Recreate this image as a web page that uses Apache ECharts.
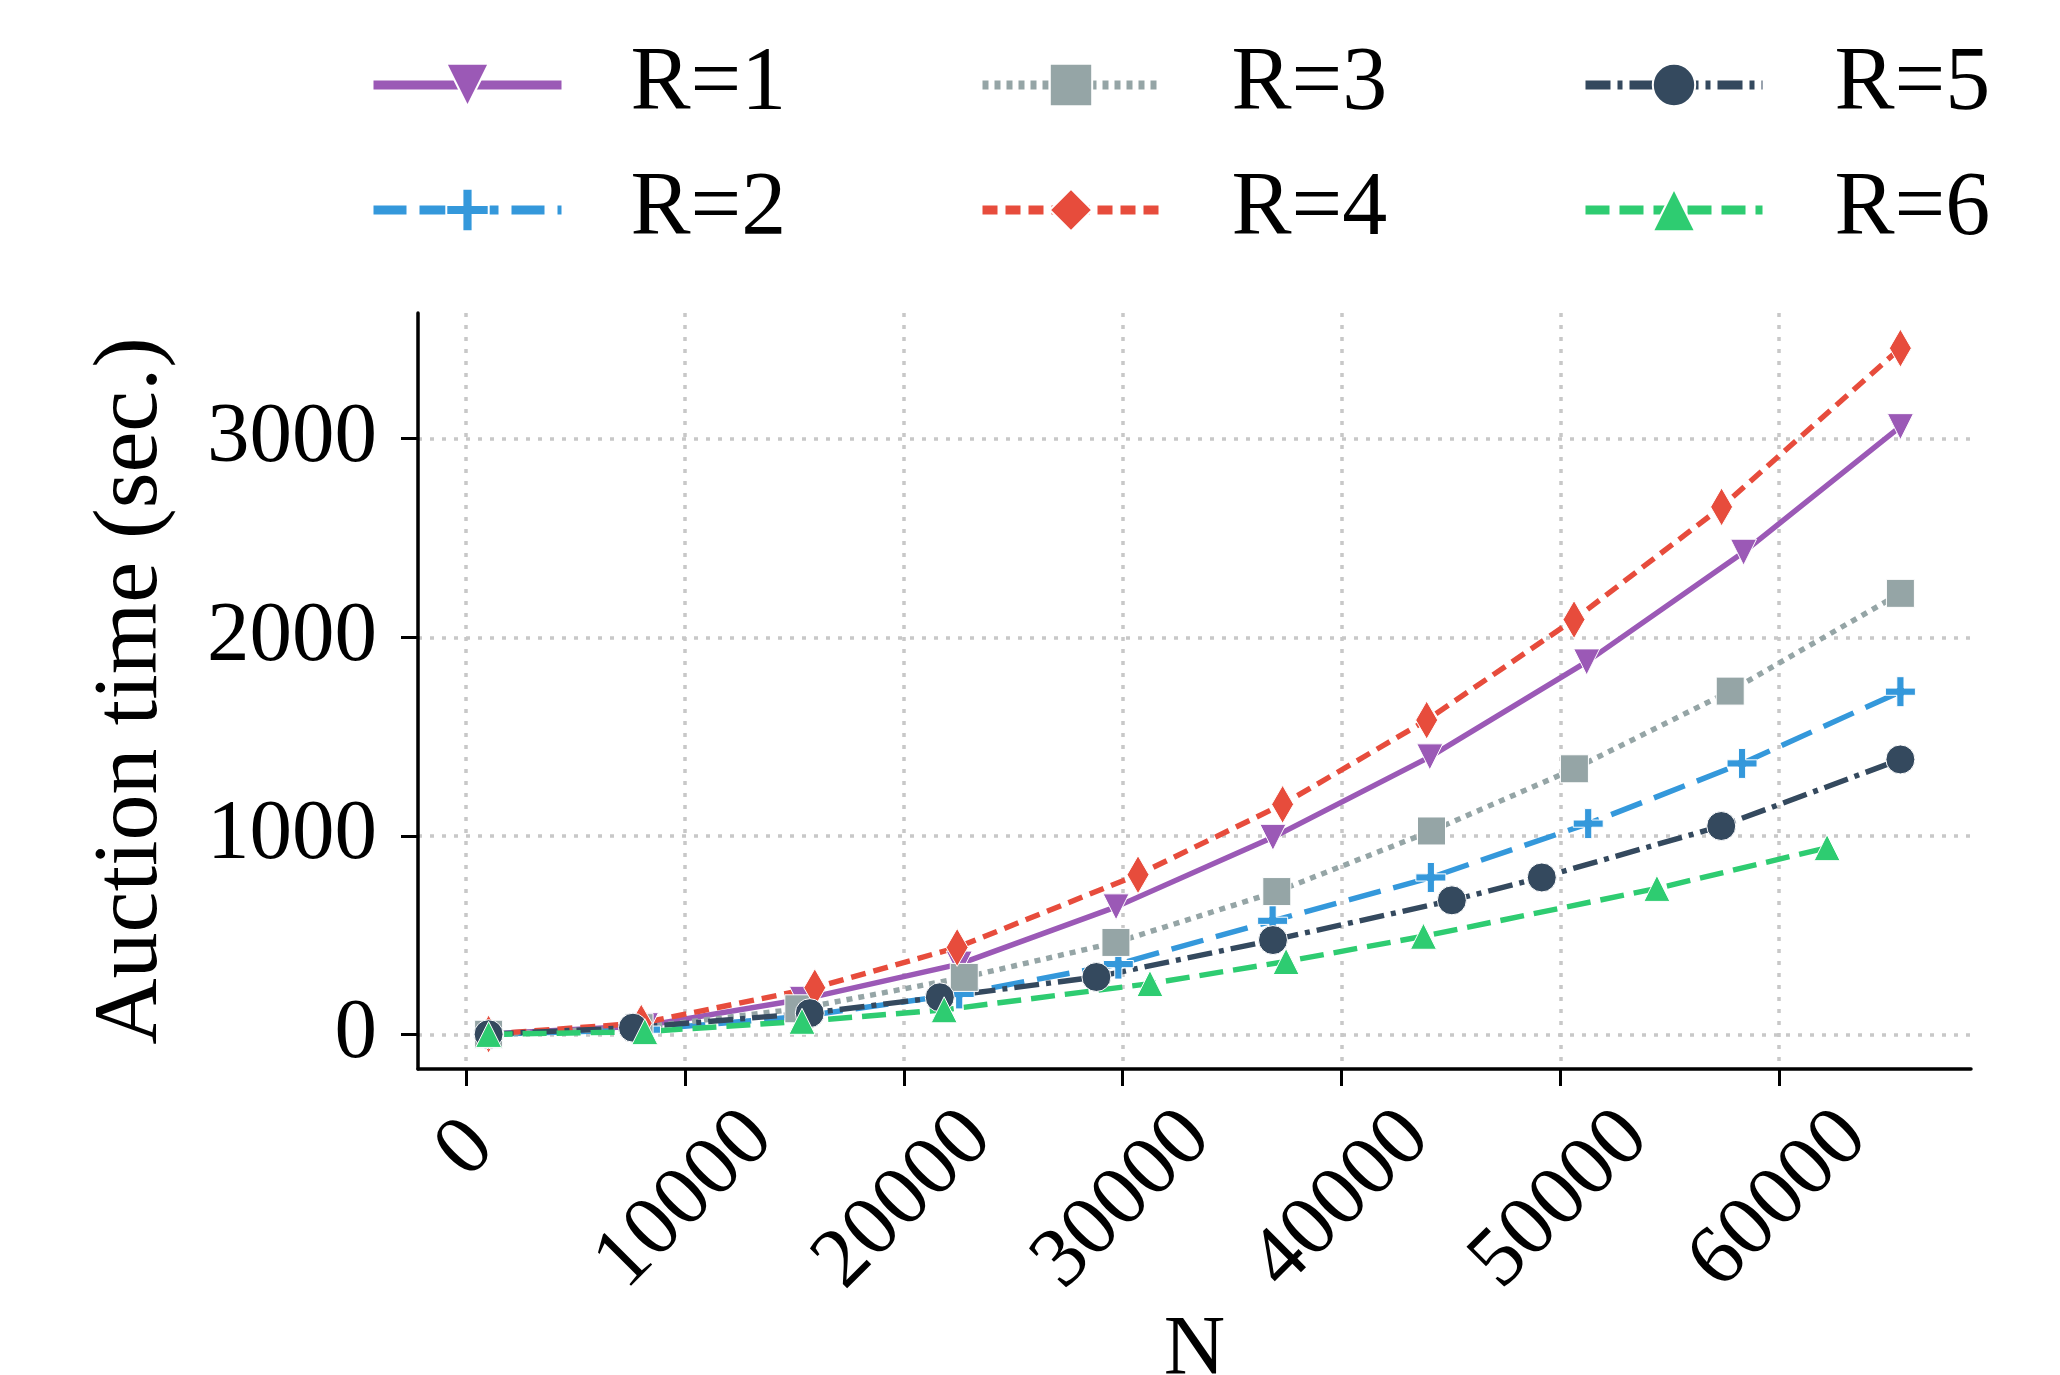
<!DOCTYPE html>
<html>
<head>
<meta charset="utf-8">
<title>Auction time</title>
<script src="https://cdn.jsdelivr.net/npm/echarts@6.0.0/dist/echarts.min.js"></script>
<style>
  html, body { margin: 0; padding: 0; background: #fff; }
  #chart { width: 2060px; height: 1375px; }
</style>
</head>
<body>
<div id="chart"></div>
<script>
// N values and auction times (sec.) per R
var nR1 = [1024, 8192, 15360, 22528, 29696, 36864, 44032, 51200, 58368, 65536];
var tR1 = [3, 45, 178, 355, 643, 993, 1398, 1876, 2428, 3060];
var nR2 = [1024, 8192, 15360, 22528, 29800, 36850, 44080, 51270, 58300, 65536];
var tR2 = [2, 25, 92, 205, 355, 573, 791, 1062, 1365, 1726];
var nR3 = [1024, 7900, 15200, 22760, 29690, 37040, 44110, 50640, 57760, 65536];
var tR3 = [2, 35, 130, 288, 464, 720, 1025, 1338, 1729, 2221];
var nR4 = [1024, 8000, 15930, 22435, 30700, 37306, 43890, 50623, 57366, 65536];
var tR4 = [3, 58, 236, 439, 805, 1159, 1583, 2089, 2656, 3455];
var nR5 = [1024, 7621, 15700, 21640, 28797, 36866, 45041, 49150, 57350, 65536];
var tR5 = [2, 35, 108, 188, 290, 476, 676, 791, 1050, 1385];
var nR6 = [1024, 8163, 15345, 21840, 31245, 37466, 43742, 54410, 62186];
var tR6 = [1, 15, 67, 125, 257, 368, 495, 736, 941];

var names = ['R=1', 'R=2', 'R=3', 'R=4', 'R=5', 'R=6'];
var xTicks = [0, 10000, 20000, 30000, 40000, 50000, 60000];
var yTicks = [0, 1000, 2000, 3000];

var serif = '"Liberation Serif", "DejaVu Serif", serif';
var plusPath = 'path://M3.8,0H6.2V3.8H10V6.2H6.2V10H3.8V6.2H0V3.8H3.8Z';
var thinDiamond = 'path://M11,0L22,19L11,38L0,19Z';

function pairs(ns, ts) {
  return ns.map(function (n, i) { return [n, ts[i]]; });
}

function makeSeries(name, ns, ts, color, dash, symbol, size, rotate) {
  return {
    name: name,
    type: 'line',
    data: pairs(ns, ts),
    symbol: symbol,
    symbolSize: size,
    symbolRotate: rotate || 0,
    symbolKeepAspect: true,
    showAllSymbol: true,
    lineStyle: { color: color, width: 5.4, type: dash },
    itemStyle: { color: color, borderColor: '#fff', borderWidth: 1 },
    emphasis: { disabled: true }
  };
}

var myChart = echarts.init(document.getElementById('chart'));

function legendCol(left, items, w, pad) {
  return {
    orient: 'vertical',
    left: left,
    top: 35,
    data: items,
    itemWidth: w,
    itemHeight: 53,
    itemGap: 35,
    selectedMode: false,
    lineStyle: { width: 9 },
    textStyle: {
      fontFamily: serif,
      fontSize: 90,
      lineHeight: 53,
      color: '#000',
      padding: [0, 0, 0, pad]
    }
  };
}

var option = {
  animation: false,
  backgroundColor: '#fff',
  legend: [
    legendCol(364, ['R=1', 'R=2'], 188, 64),
    legendCol(973, ['R=3', 'R=4'], 177, 67),
    legendCol(1576, ['R=5', 'R=6'], 177, 67)
  ],
  grid: {
    left: 418,
    right: 89,
    top: 313,
    bottom: 306,
    containLabel: false,
    outerBoundsMode: 'none'
  },
  xAxis: {
    type: 'value',
    min: -2202,
    max: 68762,
    name: 'N',
    nameLocation: 'middle',
    nameGap: 240,
    nameMoveOverlap: false,
    nameTextStyle: { fontFamily: serif, fontSize: 85, color: '#000' },
    axisLine: { show: true, onZero: false, lineStyle: { color: '#000', width: 3.5 } },
    axisTick: { show: true, customValues: xTicks, length: 17, lineStyle: { color: '#000', width: 3 } },
    axisLabel: {
      customValues: xTicks,
      rotate: 45,
      align: 'center',
      verticalAlign: 'middle',
      margin: 131,
      fontFamily: serif,
      fontSize: 85,
      color: '#000',
      formatter: function (v) { return v === 0 ? '{z|0}' : String(v); },
      rich: { z: { fontFamily: serif, fontSize: 85, color: '#000', padding: [0, 0, 72, 72] } }
    },
    splitLine: { show: true, lineStyle: { color: '#c8c8c8', width: 3.5, type: [4, 8] } }
  },
  yAxis: {
    type: 'value',
    min: -173,
    max: 3632,
    name: 'Auction time (sec.)',
    nameLocation: 'middle',
    nameGap: 240,
    nameMoveOverlap: false,
    nameTextStyle: { fontFamily: serif, fontSize: 92, color: '#000' },
    axisLine: { show: true, onZero: false, lineStyle: { color: '#000', width: 3.5 } },
    axisTick: { show: true, customValues: yTicks, length: 17, lineStyle: { color: '#000', width: 3 } },
    axisLabel: {
      customValues: yTicks,
      margin: 41,
      fontFamily: serif,
      fontSize: 85,
      color: '#000',
      formatter: function (v) { return String(v); }
    },
    splitLine: { show: true, lineStyle: { color: '#c8c8c8', width: 3.5, type: [4, 8] } }
  },
  series: [
    makeSeries(names[0], nR1, tR1, '#9b59b6', 'solid', 'triangle', 26, 180),
    makeSeries(names[1], nR2, tR2, '#3498db', [33, 13], plusPath, 30),
    makeSeries(names[2], nR3, tR3, '#95a5a6', [6, 6], 'rect', 28),
    makeSeries(names[3], nR4, tR4, '#e74c3c', [15, 8], thinDiamond, 38),
    makeSeries(names[4], nR5, tR5, '#34495e', [25, 7, 5, 7], 'circle', 29),
    makeSeries(names[5], nR6, tR6, '#2ecc71', [24, 10], 'triangle', 26)
  ]
};

myChart.setOption(option);
window.addEventListener('resize', function () {
  myChart.resize();
});
</script>
</body>
</html>
